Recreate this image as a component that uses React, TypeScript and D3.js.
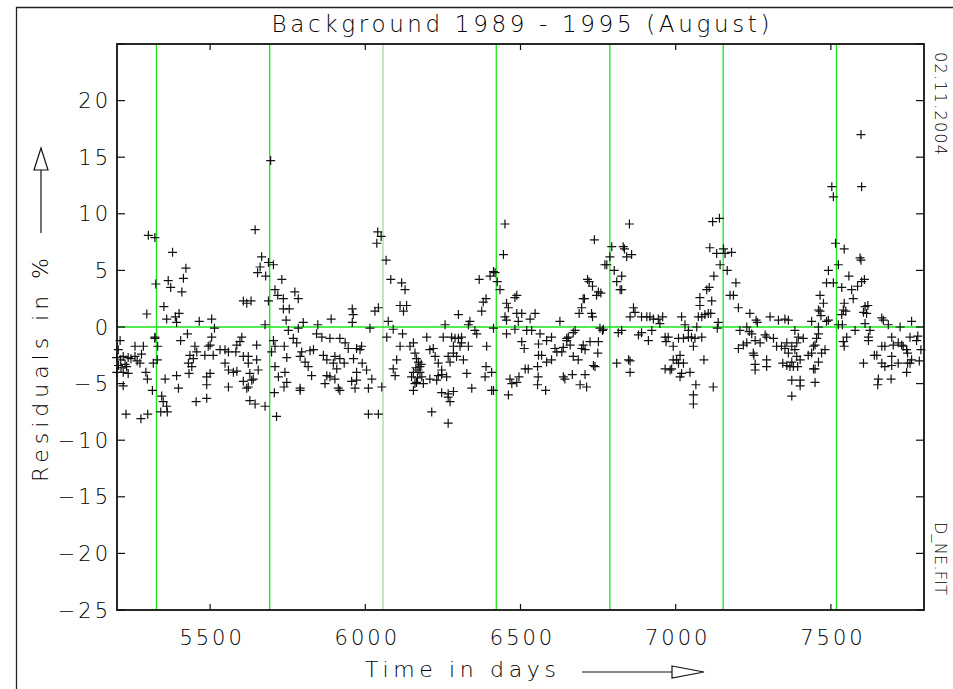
import React from "react";
import * as d3 from "d3";

// --- Data (day number, residual in %), one array per stretch of the time axis ---
const PTS_5200: [number, number][] = [
  [5199, -2.7], [5199, -4.0], [5204, -2.0], [5205, -3.4], [5210, -1.2], [5212, -2.9], [5213, -3.6],
  [5220, -2.6], [5220, -4.0], [5220, -5.2], [5226, -3.3], [5229, -7.7], [5231, -3.5], [5236, -2.7],
  [5236, -4.1], [5245, -2.8], [5258, -1.7], [5258, -2.6], [5265, -3.0], [5274, -3.2], [5277, -8.1],
  [5279, -2.4], [5285, -1.7], [5293, -4.0], [5296, 1.15], [5298, -4.6], [5299, -7.7], [5301, 8.1],
  [5314, -5.6], [5317, -3.2], [5322, 7.9], [5322, -0.9], [5322, -1.0], [5325, 3.8], [5330, -2.9],
  [5331, -1.7], [5341, -7.5], [5344, -6.1], [5349, -6.6], [5351, 1.8], [5355, -4.6], [5360, 0.7],
  [5360, -7.0], [5362, -7.5], [5365, 4.1], [5373, 3.5], [5379, 6.6], [5388, 0.9], [5392, 0.4],
  [5392, -4.3], [5398, -5.4], [5400, 1.2], [5405, -1.2], [5409, 3.1], [5414, 4.3], [5422, 5.2],
  [5427, -0.6], [5430, -3.2], [5432, -4.1], [5435, -2.5], [5441, -3.5], [5446, -2.8], [5451, -1.7],
  [5455, -6.6], [5457, -2.2], [5465, 0.5], [5483, -2.5], [5489, -4.4], [5489, -5.1], [5489, -6.3],
  [5494, -1.7], [5500, -1.6], [5500, -4.1], [5505, 0.7], [5505, -0.9], [5510, -2.5], [5514, -0.1],
  [5532, -2.0], [5548, -2.0], [5548, -3.2], [5559, -2.2], [5559, -3.8], [5559, -5.3], [5575, -4.0],
  [5583, -2.2], [5586, -1.6], [5586, -3.9], [5596, -1.3], [5602, -0.9], [5607, 2.3], [5607, -2.6],
  [5607, -4.8],
];

const PTS_5600: [number, number][] = [
  [5618, 2.1], [5618, -5.4], [5623, -2.6], [5623, -3.2], [5623, -5.3], [5628, -4.1], [5628, -6.5],
  [5632, 2.3], [5634, -4.7], [5639, -4.6], [5645, 8.6], [5645, -6.8], [5650, -2.9], [5650, -1.6],
  [5653, 4.8], [5655, -3.8], [5661, 5.3], [5666, 6.2], [5677, 0.2], [5677, -7.0], [5679, 4.5],
  [5688, 5.7], [5688, 2.3], [5695, 14.7], [5698, -2.2], [5704, 5.5], [5704, -1.2], [5707, -5.8],
  [5709, 3.3], [5709, -1.7], [5709, -3.5], [5714, -7.9], [5718, 2.8], [5720, -4.4], [5731, 4.2],
  [5736, 2.5], [5736, 1.6], [5738, -5.3], [5739, -1.7], [5741, -4.0], [5745, 0.6], [5747, -2.7],
  [5747, -4.9], [5752, -0.3], [5755, 1.6], [5768, -1.0], [5773, 3.1], [5779, -1.4], [5784, 2.5],
  [5784, -0.1], [5790, -2.6], [5790, -5.4], [5790, -5.6], [5795, -2.2], [5800, 0.4], [5806, -3.1],
  [5816, -3.5], [5822, -2.1], [5827, -4.3], [5833, -2.0], [5843, -0.6], [5847, 0.2], [5860, -0.9],
  [5865, -2.5], [5870, -5.0], [5876, -2.9], [5876, -4.3], [5886, -1.0], [5886, -4.4], [5890, 0.7],
  [5897, -3.2], [5902, -2.6], [5902, -4.6], [5908, -3.7], [5913, -5.4], [5918, -1.0], [5918, -2.8],
  [5918, -5.6], [5932, -3.2], [5935, -1.4], [5945, -1.9], [5956, -4.8], [5958, 1.6], [5958, 0.4],
  [5961, 1.1], [5962, -2.8], [5967, -5.4], [5972, -1.9], [5972, -4.0], [5972, -4.7], [5983, -2.0],
  [5988, -1.7], [5990, -3.2], [6004, -3.8], [6010, -5.4], [6010, -7.7], [6015, -0.1], [6021, -4.6],
  [6031, 1.4], [6037, 7.4], [6040, 8.4], [6042, 1.7], [6042, -7.7], [6051, 8.0], [6053, -5.3],
];

const PTS_6050: [number, number][] = [
  [6067, 5.9], [6069, -0.9], [6074, 0.5], [6082, 4.2], [6090, -0.2], [6090, -3.7], [6096, -4.3],
  [6101, -2.9], [6112, 1.9], [6112, -1.7], [6117, 3.9], [6120, -0.6], [6123, 1.4], [6128, 3.3],
  [6133, 1.9], [6144, -1.7], [6149, -4.4], [6155, -1.4], [6155, -4.0], [6155, -5.6], [6160, -2.3],
  [6160, -5.0], [6163, -3.6], [6165, -2.8], [6165, -4.9], [6168, -4.5], [6170, -3.8], [6171, -3.1],
  [6176, -3.5], [6176, -4.0], [6180, -3.3], [6182, -4.4], [6187, -5.0], [6198, -0.9], [6208, -2.0],
  [6208, -4.6], [6214, -7.5], [6219, -1.9], [6225, -2.6], [6230, -4.7], [6235, -3.2], [6235, -4.3],
  [6246, -3.8], [6246, -4.2], [6246, -5.8], [6251, -0.9], [6257, 0.2], [6262, -4.4], [6267, -2.6],
  [6267, -5.9], [6267, -6.2], [6267, -8.5], [6273, -3.1], [6273, -6.6], [6278, -0.9], [6284, -2.3],
  [6284, -1.7], [6284, -5.7], [6289, -1.0], [6294, -2.6], [6300, 1.1], [6300, -1.0], [6305, -1.7],
  [6310, -1.4], [6310, -0.9], [6316, -2.9], [6327, -4.1], [6332, 0.2], [6332, -1.7], [6337, 0.5],
  [6343, -5.4], [6353, -0.3], [6359, -0.6], [6367, 4.2], [6375, 1.4], [6380, 2.2], [6386, -4.4],
  [6389, 2.5], [6389, -3.5], [6391, -1.7], [6402, 4.5], [6407, -4.0], [6407, -5.6], [6413, 4.9],
  [6413, -0.1], [6413, -5.6], [6418, 4.8], [6425, 4.0], [6434, 3.3], [6445, 6.4], [6450, 9.1],
  [6450, 0.9], [6455, 2.1], [6455, 0.6], [6455, -0.6], [6461, 1.7], [6461, -6.0], [6466, -4.6],
  [6472, -5.0], [6482, 2.6], [6482, -0.2],
];

const PTS_6480: [number, number][] = [
  [6488, 2.8], [6488, 1.2], [6488, -4.9], [6493, 0.5], [6495, -4.4], [6504, 1.2], [6504, -1.3],
  [6512, -1.9], [6515, -3.7], [6520, -0.3], [6525, -3.7], [6531, 0.7], [6536, -0.3], [6547, 1.2],
  [6555, -3.5], [6555, -5.1], [6557, -4.4], [6558, -1.5], [6558, -2.5], [6563, -0.6], [6568, -2.5],
  [6581, -5.6], [6584, -1.2], [6584, -3.1], [6600, -0.9], [6600, -2.9], [6611, -1.9], [6617, -2.2],
  [6627, 0.5], [6633, -2.2], [6638, -1.8], [6638, -4.4], [6643, -4.6], [6649, -1.0], [6649, -1.2],
  [6654, -0.9], [6660, -1.6], [6667, -4.2], [6670, -0.5], [6670, -2.6], [6676, -0.3], [6686, -2.9],
  [6689, 1.2], [6692, -5.1], [6697, 1.7], [6697, -1.9], [6702, 2.5], [6702, -1.6], [6706, 2.5],
  [6708, -2.0], [6708, -4.2], [6713, -5.3], [6716, 4.2], [6721, 4.0], [6724, -1.3], [6729, 1.2],
  [6732, 3.6], [6732, 0.9], [6735, -3.4], [6738, 7.7], [6740, -3.5], [6745, 2.8], [6749, -2.3],
  [6751, 3.1], [6751, -1.3], [6756, -0.1], [6759, 3.0], [6764, -0.3], [6767, -0.2], [6772, 5.5],
  [6778, 5.5], [6788, 6.2], [6794, 7.1], [6802, 5.0], [6810, 4.0], [6810, -3.2], [6815, -0.5],
  [6821, 3.3], [6826, 4.5], [6826, 3.3], [6826, -0.3], [6831, 7.1], [6835, 6.9], [6842, 6.2],
  [6848, -2.9], [6851, 9.1], [6853, 0.9], [6853, -3.0], [6853, -4.0], [6858, 6.4], [6864, 1.7],
  [6869, 1.3], [6880, -0.7], [6890, 0.9], [6890, -0.5], [6907, 0.9], [6912, -1.2],
];

const PTS_6920: [number, number][] = [
  [6917, 0.9], [6923, -0.3], [6928, 0.7], [6944, 0.7], [6949, 0.3], [6958, 0.9], [6966, -0.9],
  [6966, -3.7], [6969, -1.3], [6976, -0.9], [6982, -3.8], [6987, -3.7], [6992, -1.7], [6992, -2.9],
  [7003, -2.9], [7009, -1.0], [7009, -3.2], [7014, -2.5], [7014, -4.4], [7019, 0.9], [7019, -4.1],
  [7025, -1.0], [7025, -3.2], [7030, 0.2], [7041, -0.3], [7041, -0.9], [7046, -4.0], [7051, -0.9],
  [7057, -1.7], [7057, -6.0], [7057, -6.8], [7062, -1.0], [7065, -5.1], [7068, 0.0], [7073, 0.9],
  [7078, 2.6], [7078, 1.9], [7084, 0.9], [7084, -0.9], [7091, -2.9], [7094, 1.1], [7100, 3.3],
  [7105, 1.2], [7108, 3.5], [7110, 7.0], [7113, 1.2], [7116, 2.3], [7119, 9.3], [7121, -5.3],
  [7123, 4.5], [7132, 6.5], [7134, -0.1], [7137, 0.4], [7141, 9.6], [7143, 5.5], [7154, 6.9],
  [7159, 6.5], [7166, 5.0], [7175, 2.8], [7180, 6.6], [7186, 2.8], [7194, 3.9], [7202, 1.7],
  [7202, -1.9], [7207, -0.3], [7218, -1.6], [7229, 0.0], [7229, -1.4], [7237, -0.4], [7239, 1.2],
  [7245, -0.6], [7250, -2.3], [7252, -2.5], [7256, -1.2], [7256, -3.3], [7256, -3.8], [7259, 0.6],
  [7263, 0.4], [7272, -1.4], [7288, -0.7], [7293, -0.9], [7293, -2.9], [7293, -3.5], [7304, 0.9],
  [7315, -1.0], [7325, -1.7], [7331, 0.6], [7341, -1.7], [7345, -3.2], [7352, 0.7], [7352, -1.9],
  [7358, -3.4],
];

const PTS_7350: [number, number][] = [
  [7358, -1.4], [7363, 0.6], [7363, -2.3], [7368, -3.5], [7374, -1.7], [7374, -3.1], [7374, -4.7],
  [7374, -6.1], [7379, -3.5], [7384, -0.3], [7384, -2.0], [7390, -1.4], [7390, -2.6], [7393, -3.5],
  [7395, -0.9], [7401, -2.9], [7401, -4.7], [7401, -5.2], [7411, -1.0], [7427, -2.5], [7438, 0.5],
  [7438, -2.3], [7444, -1.7], [7444, -3.7], [7449, -1.6], [7449, -3.7], [7449, -4.9], [7454, -1.0],
  [7460, 0.0], [7460, -0.6], [7460, -3.1], [7460, 1.5], [7465, 2.8], [7465, 1.4], [7468, 1.0],
  [7470, -2.3], [7476, 2.1], [7481, -2.0], [7486, 3.9], [7486, 0.5], [7492, 5.0], [7492, 0.6],
  [7503, 12.4], [7508, 11.5], [7508, 3.9], [7515, 7.4], [7524, 5.5], [7524, 0.2], [7535, 3.5],
  [7535, 1.1], [7537, 0.2], [7540, 1.5], [7540, -1.3], [7543, 6.9], [7543, 2.1], [7543, -1.7],
  [7548, 1.4], [7551, -0.9], [7558, 4.5], [7567, 3.3], [7572, 2.5], [7578, -0.3], [7586, 3.6],
  [7594, 6.1], [7597, 17.0], [7597, 5.9], [7599, 12.4], [7599, 4.0], [7605, 1.3], [7605, -3.2],
  [7608, 4.2], [7610, 1.8], [7610, 0.3], [7615, 1.2], [7619, 1.9], [7621, -0.9], [7621, -1.2],
  [7626, -0.3], [7640, -2.5], [7648, -2.5], [7651, -5.1], [7653, -4.6], [7664, 0.8], [7664, -1.7],
  [7664, -3.2], [7669, 0.6], [7674, -1.7], [7674, -3.5], [7685, 0.2], [7694, -4.6], [7696, -0.9],
  [7696, -2.6], [7696, -3.4], [7701, -1.6], [7717, -1.4], [7717, -3.2], [7723, 0.0], [7728, -1.6],
  [7733, -1.7], [7744, -2.0], [7744, -4.0], [7747, -2.3], [7747, -3.2], [7755, -0.9], [7755, -3.2],
  [7760, 0.5], [7760, -2.9], [7776, -1.2], [7780, -0.8], [7785, -3.0], [7790, -2.0],
];

// yearly markers (day numbers of each August)
const YEAR_MARKS = [5327, 5692, 6057, 6422, 6788, 7153, 7518];
const X_TICKS = [5500, 6000, 6500, 7000, 7500];
const Y_TICKS = [-25, -20, -15, -10, -5, 0, 5, 10, 15, 20, 25];
const Y_LABELS = [-25, -20, -15, -10, -5, 0, 5, 10, 15, 20];

const W = 953;
const H = 689;
const LEFT = 117;
const RIGHT = 924;
const TOP = 44;
const BOTTOM = 610;
const GREEN = "#19e619";
const FONT = "'DejaVu Sans', 'Liberation Sans', sans-serif";

export default function App() {
  const x = d3.scaleLinear().domain([5200, 7800]).range([LEFT, RIGHT]);
  const y = d3.scaleLinear().domain([-25, 25]).range([BOTTOM, TOP]);

  const points = [...PTS_5200, ...PTS_5600, ...PTS_6050, ...PTS_6480, ...PTS_6920, ...PTS_7350];
  const plus = "M-4.5,0H4.5M0,-4.5V4.5";
  const fmt = (v: number) => (v < 0 ? "\u2212" + Math.abs(v) : String(v));

  return (
    <svg
      width={W}
      height={H}
      style={{ position: "absolute", left: 0, top: 0, background: "#fff" }}
      fontFamily={FONT}
      fontWeight={200}
    >
      {/* outer page frame */}
      <path d={`M16.5,${H}V7.5H${W}`} fill="none" stroke="#222" strokeWidth={1.3} />

      <text x={(LEFT + RIGHT) / 2} y={32} textAnchor="middle" fontSize={23} fill="#000"
        textLength={498} lengthAdjust="spacing">
        Background 1989 - 1995 (August)
      </text>

      {/* year markers and zero line */}
      {YEAR_MARKS.map((d, i) => (
        <line key={d} x1={x(d)} x2={x(d)} y1={TOP} y2={BOTTOM}
          stroke={i === 2 ? "#8fc88f" : GREEN} strokeWidth={i === 2 ? 1 : 1.3} />
      ))}
      <line x1={LEFT} x2={RIGHT} y1={y(0)} y2={y(0)} stroke={GREEN} strokeWidth={1.5} />

      {/* data */}
      <g stroke="#111" strokeWidth={1.2} fill="none">
        {points.map(([d, v], i) => (
          <path key={i} transform={`translate(${x(d)},${y(v)})`} d={plus} />
        ))}
      </g>

      {/* ticks */}
      <g stroke="#111" strokeWidth={1.2}>
        {Y_TICKS.map((t) => (
          <g key={t}>
            <line x1={LEFT} x2={LEFT + 8} y1={y(t)} y2={y(t)} />
            <line x1={RIGHT - 8} x2={RIGHT} y1={y(t)} y2={y(t)} />
          </g>
        ))}
        {X_TICKS.map((t) => (
          <g key={t}>
            <line x1={x(t)} x2={x(t)} y1={BOTTOM} y2={BOTTOM - 6} />
            <line x1={x(t)} x2={x(t)} y1={TOP} y2={TOP + 6} />
          </g>
        ))}
      </g>
      <rect x={LEFT} y={TOP} width={RIGHT - LEFT} height={BOTTOM - TOP} fill="none" stroke="#111" strokeWidth={1.8} />

      {/* tick labels */}
      <g fontSize={21} fill="#000" style={{ letterSpacing: "3px" }}>
        {Y_LABELS.map((t) => (
          <text key={t} x={111} y={y(t) + 7.5} textAnchor="end">{fmt(t)}</text>
        ))}
        {X_TICKS.map((t) => (
          <text key={t} x={x(t) + 2} y={645} textAnchor="middle">{t}</text>
        ))}
      </g>

      {/* axis titles */}
      <text x={365} y={677} fontSize={22} fill="#000" textLength={191} lengthAdjust="spacing">
        Time in days
      </text>
      <path d="M582,672H672" stroke="#111" strokeWidth={1.2} />
      <path d="M672,666L704,672L672,678Z" fill="#fff" stroke="#111" strokeWidth={1.2} />

      <text transform="translate(48,370) rotate(-90)" textAnchor="middle" fontSize={22} fill="#000"
        textLength={224} lengthAdjust="spacing">
        Residuals in %
      </text>
      <path d="M41,233V170" stroke="#111" strokeWidth={1.2} />
      <path d="M41,148L34,170L48,170Z" fill="#fff" stroke="#111" strokeWidth={1.2} />

      {/* right margin annotations */}
      <text transform="translate(935,52) rotate(90)" fontSize={16} fill="#000" textLength={103} lengthAdjust="spacing">
        02.11.2004
      </text>
      <text transform="translate(935,522) rotate(90)" fontSize={16} fill="#000" textLength={73} lengthAdjust="spacing">
        D_NE.FIT
      </text>
    </svg>
  );
}
